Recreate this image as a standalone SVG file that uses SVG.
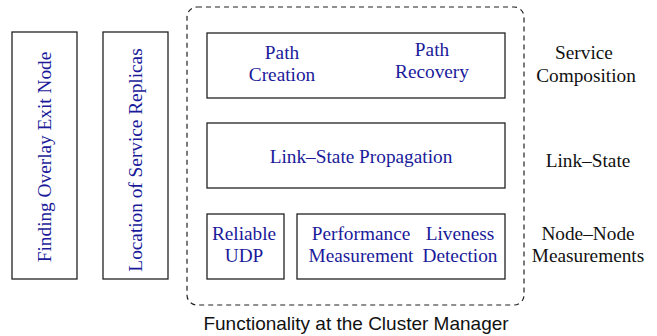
<svg xmlns="http://www.w3.org/2000/svg" width="657" height="336" viewBox="0 0 657 336">
<style>
.box{fill:#fff;stroke:#222;stroke-width:1.3}
.t{font-family:"Liberation Serif",serif;font-size:19.3px;fill:#1a1a9a;text-anchor:middle}
.k{font-family:"Liberation Serif",serif;font-size:19.3px;fill:#111;text-anchor:middle}
.f{font-family:"Liberation Sans",sans-serif;font-size:19px;fill:#111;text-anchor:middle}
</style>
<rect width="657" height="336" fill="#fff"/>
<g id="cluster">
<rect x="187" y="7" width="337" height="298" rx="10" fill="none" stroke="#222" stroke-width="1.2" stroke-dasharray="5,4"/>
<text class="f" x="356" y="330">Functionality at the Cluster Manager</text>
</g>
<g id="exit">
<rect class="box" x="12" y="32" width="65" height="247"/>
<text class="t" transform="translate(51,157) rotate(-90)">Finding Overlay Exit Node</text>
</g>
<g id="replicas">
<rect class="box" x="103" y="32" width="65" height="247"/>
<text class="t" transform="translate(142,160) rotate(-90)">Location of Service Replicas</text>
</g>
<g id="path">
<rect class="box" x="207" y="33" width="298" height="65"/>
<text class="t" x="282" y="59">Path</text>
<text class="t" x="282" y="81">Creation</text>
<text class="t" x="432" y="56">Path</text>
<text class="t" x="432" y="78">Recovery</text>
</g>
<g id="linkstate">
<rect class="box" x="207" y="123" width="298" height="65"/>
<text class="t" x="361" y="163">Link–State Propagation</text>
</g>
<g id="udp">
<rect class="box" x="207" y="214" width="77" height="65"/>
<text class="t" x="244" y="240">Reliable</text>
<text class="t" x="244" y="262">UDP</text>
</g>
<g id="measure">
<rect class="box" x="297" y="214" width="208" height="65"/>
<text class="t" x="361" y="240">Performance</text>
<text class="t" x="361" y="262">Measurement</text>
<text class="t" x="460" y="240">Liveness</text>
<text class="t" x="460" y="262">Detection</text>
</g>
<g id="labels">
<text class="k" x="584" y="59">Service</text>
<text class="k" x="586" y="82">Composition</text>
<text class="k" x="588" y="167">Link–State</text>
<text class="k" x="588" y="240">Node–Node</text>
<text class="k" x="588" y="262">Measurements</text>
</g>
<g id="connectors"></g>
</svg>
